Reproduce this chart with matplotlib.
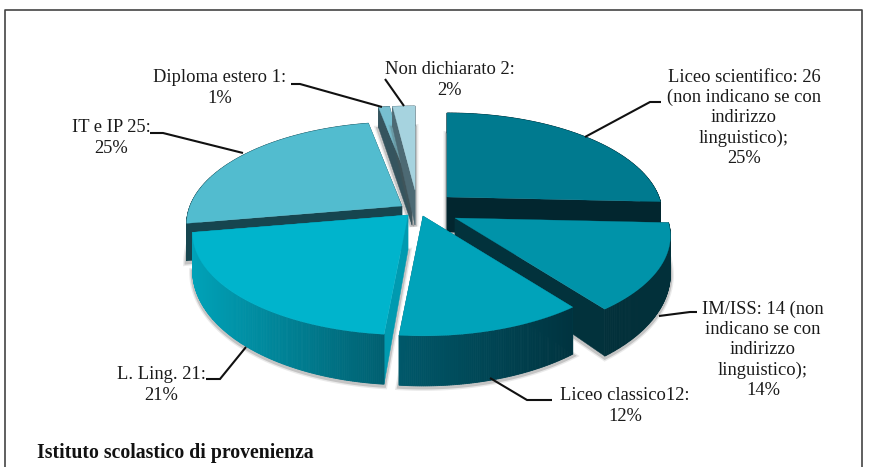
import numpy as np
import matplotlib
matplotlib.use("Agg")
import matplotlib.pyplot as plt
from matplotlib.colors import to_rgb

# ---- data ----
categories = ["Liceo scientifico", "IM/ISS", "Liceo classico", "L. Ling.", "IT e IP",
              "Diploma estero", "Non dichiarato"]
values = [26, 14, 12, 21, 25, 1, 2]
labels = ["Liceo scientifico: 26\n(non indicano se con\nindirizzo\nlinguistico);\n25%",
          "IM/ISS: 14 (non\nindicano se con\nindirizzo\nlinguistico);\n14%",
          "Liceo classico12:\n12%",
          "L. Ling. 21:\n21%",
          "IT e IP 25:\n25%",
          "Diploma estero 1:\n1%",
          "Non dichiarato 2:\n2%"]
title = "Istituto scolastico di provenienza"

# ---- style / layout (pixel space) ----
W, H = 873, 467
FONT = ["Liberation Serif", "DejaVu Serif"]
FS = 13.3
tops = ["#007a8f", "#0093a9", "#00a3ba", "#00b4cc", "#52bccf", "#77bfd0", "#a6d3df"]
cuts = ["#02262f", "#02323c", "#006a7c", "#009ab0", "#16454f", "#35545e", "#4d6a74"]
wall_l = ["#02262f", "#02303a", "#00586a", "#00a2b8", "#16454f", "#35545e", "#4d6a74"]
wall_r = ["#02262f", "#02303a", "#00333f", "#005f70", "#16454f", "#35545e", "#4d6a74"]
apex = [(447, 197), (455, 218), (423, 216), (408, 215), (402, 206), (412, 190), (415, 190)]
order = [0, 4, 5, 6, 3, 1, 2]
A, B, K = 212.0, 98.8, 0.176
label_pos = [(744, 118, 22), (763, 350, 22), (625, 406, 22), (161, 385, 22),
             (111, 138, 22), (220, 88, 22), (450, 80, 22)]
leaders = [[(585, 137), (650, 102), (661, 102)],
           [(659, 316), (690, 312), (697, 312)],
           [(490, 378), (527, 400), (552, 400)],
           [(246, 347), (220, 379), (206, 379)],
           [(243, 153), (163, 133), (150, 133)],
           [(382, 107), (300, 84), (291, 84)],
           [(404, 106), (385, 79)]]


def project(center, theta):
    u, v = np.sin(theta), np.cos(theta)
    w = 1 + K * v
    return center[0] + A * u / w, center[1] - B * v / w, 35 - 15 * v


fig = plt.figure(figsize=(W / 100, H / 100), dpi=100)
ax = fig.add_axes([0, 0, 1, 1])
ax.set_xlim(0, W)
ax.set_ylim(H, 0)
ax.axis("off")

# frame
ax.plot([5, 5, 862, 862], [H, 10, 10, H], color="#444444", lw=1.2, solid_capstyle="butt")

edges = np.concatenate([[0], np.cumsum(values)]) / np.sum(values) * 2 * np.pi

for i in order:
    t = np.linspace(edges[i], edges[i + 1], max(6, int(values[i] * 8)))
    c = apex[i]
    x, y, d = project(c, t)
    cx, cy = c
    cd = 35.0

    # soft shadow of the underside
    sx = np.r_[cx, x]
    sy = np.r_[cy + cd, y + d]
    for lw, al in ((5, 0.12), (3, 0.25)):
        ax.fill(sx, sy + 1.5, facecolor="none", edgecolor="#555555", lw=lw, alpha=al)

    # cut faces
    ax.fill([cx, x[0], x[0], cx], [cy, y[0], y[0] + d[0], cy + cd],
            color=cuts[i], lw=0.3)
    ax.fill([cx, x[-1], x[-1], cx], [cy, y[-1], y[-1] + d[-1], cy + cd],
            color=cuts[i], lw=0.3)

    # outer wall with a horizontal gradient
    c_l, c_r = np.array(to_rgb(wall_l[i])), np.array(to_rgb(wall_r[i]))
    xmin, xmax = x.min(), x.max()
    for j in range(len(t) - 1):
        f = ((x[j] + x[j + 1]) / 2 - xmin) / max(xmax - xmin, 1)
        col = c_l + (c_r - c_l) * f
        ax.fill([x[j], x[j + 1], x[j + 1], x[j]],
                [y[j], y[j + 1], y[j + 1] + d[j + 1], y[j] + d[j]],
                facecolor=col, edgecolor=col, lw=0.6)

    # top surface
    ax.fill(np.r_[cx, x], np.r_[cy, y], color=tops[i], lw=0.2)

# leader lines
for pts in leaders:
    xs, ys = zip(*pts)
    ax.plot(xs, ys, color="#111111", lw=1.5, solid_capstyle="butt", solid_joinstyle="miter")

# labels
for txt, (lx, ly, ls) in zip(labels, label_pos):
    ax.text(lx, ly, txt, ha="center", va="center", family=FONT, fontsize=FS,
            color="#1a1a1a", linespacing=1.25)

ax.text(37, 453, title, ha="left", va="center", family=FONT, fontsize=14.2,
        fontweight="bold", color="#111111")

fig.savefig("out.png", dpi=100, facecolor="white")
